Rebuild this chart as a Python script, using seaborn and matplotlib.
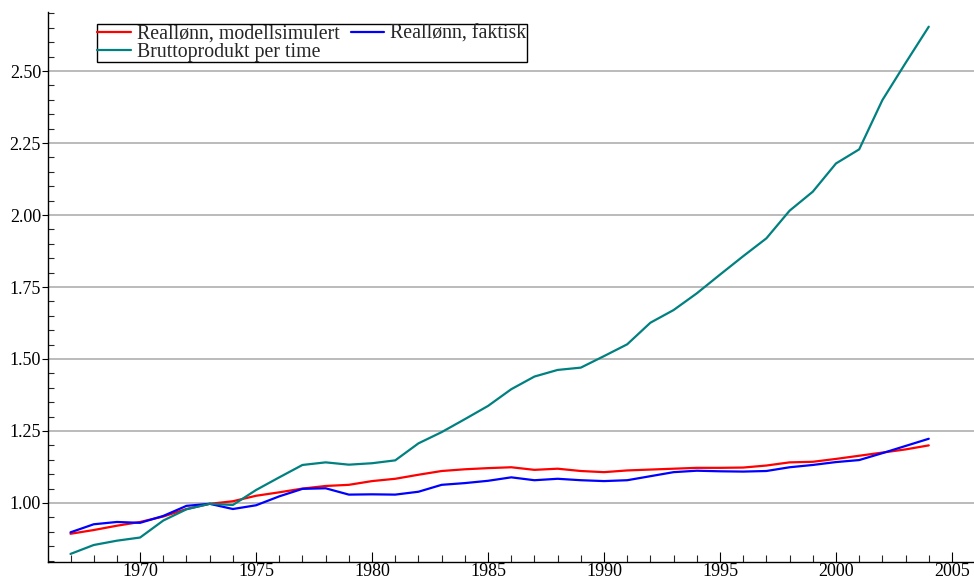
import numpy as np
import pandas as pd
import matplotlib
matplotlib.use("Agg")
import matplotlib.pyplot as plt
from matplotlib.ticker import MultipleLocator, FormatStrFormatter
import seaborn as sns

years = list(range(1967, 2005))

reallonn_modell = [0.893, 0.906, 0.921, 0.934, 0.953, 0.979, 0.997, 1.006, 1.025, 1.037,
                   1.050, 1.059, 1.063, 1.076, 1.084, 1.098, 1.111, 1.117, 1.121, 1.124,
                   1.115, 1.119, 1.111, 1.107, 1.113, 1.116, 1.119, 1.122, 1.122, 1.123,
                   1.130, 1.141, 1.143, 1.153, 1.164, 1.175, 1.186, 1.200]

reallonn_faktisk = [0.898, 0.926, 0.934, 0.931, 0.955, 0.990, 0.997, 0.979, 0.992, 1.023,
                    1.049, 1.051, 1.029, 1.030, 1.029, 1.039, 1.063, 1.069, 1.077, 1.089,
                    1.079, 1.084, 1.079, 1.076, 1.079, 1.093, 1.107, 1.112, 1.110, 1.109,
                    1.111, 1.124, 1.132, 1.142, 1.149, 1.173, 1.198, 1.223]

bruttoprodukt = [0.823, 0.854, 0.869, 0.880, 0.939, 0.978, 0.997, 0.993, 1.045, 1.089,
                 1.132, 1.141, 1.133, 1.138, 1.148, 1.207, 1.246, 1.291, 1.337, 1.395,
                 1.439, 1.462, 1.470, 1.510, 1.551, 1.626, 1.670, 1.728, 1.793, 1.857,
                 1.919, 2.015, 2.081, 2.179, 2.228, 2.399, 2.528, 2.654]

serier = ["Reallønn, modellsimulert", "Reallønn, faktisk", "Bruttoprodukt per time"]
farger = ["#ff0000", "#0000ff", "#008080"]

df = pd.DataFrame({
    "aar": years * 3,
    "verdi": reallonn_modell + reallonn_faktisk + bruttoprodukt,
    "serie": [serier[0]] * len(years) + [serier[1]] * len(years) + [serier[2]] * len(years),
})

sns.set_style("white")
plt.rcParams["font.family"] = ["Liberation Serif", "DejaVu Serif"]

fig = plt.figure(figsize=(9.74, 5.79), dpi=100)
ax = fig.add_axes([48 / 974, 17 / 579, 1 - 48 / 974, 550 / 579])

sns.lineplot(data=df, x="aar", y="verdi", hue="serie", hue_order=serier,
             palette=farger, linewidth=1.6, ax=ax)

ax.set_xlim(1966.03, 2005.95)
ax.set_ylim(0.795, 2.705)
ax.set_xlabel("")
ax.set_ylabel("")

ax.xaxis.set_major_locator(MultipleLocator(5))
ax.xaxis.set_minor_locator(MultipleLocator(1))
ax.yaxis.set_major_locator(MultipleLocator(0.25))
ax.yaxis.set_minor_locator(MultipleLocator(0.05))
ax.yaxis.set_major_formatter(FormatStrFormatter("%.2f"))

ax.tick_params(axis="x", which="major", direction="in", length=7, width=0.8,
               labelsize=13, pad=1, colors="black")
ax.tick_params(axis="x", which="minor", direction="in", length=5, width=0.8)
ax.tick_params(axis="y", which="major", direction="out", length=4, width=0.8,
               labelsize=13, pad=1, colors="black")
ax.tick_params(axis="y", which="minor", direction="in", length=4, width=0.8)
ax.tick_params(bottom=True, left=True, which="both")

ax.grid(axis="y", which="major", color="#a8a8a8", linewidth=1.1)
ax.set_axisbelow(True)

for s in ["top", "right"]:
    ax.spines[s].set_visible(False)
for s in ["left", "bottom"]:
    ax.spines[s].set_color("black")
    ax.spines[s].set_linewidth(1)

# rekkefolge slik at forste rad blir modell + faktisk
handles, labels = ax.get_legend_handles_labels()
orden = [0, 2, 1]
leg = ax.legend([handles[i] for i in orden], [labels[i] for i in orden], ncol=2,
                loc="upper left", bbox_to_anchor=(0.0526, 0.9776), fontsize=14.3,
                frameon=True, fancybox=False, edgecolor="black", framealpha=1,
                borderpad=0.02, labelspacing=-0.06, handlelength=1.7,
                handletextpad=0.3, columnspacing=0.55, borderaxespad=0)
leg.get_frame().set_linewidth(1)

fig.savefig("out.png", dpi=100)
